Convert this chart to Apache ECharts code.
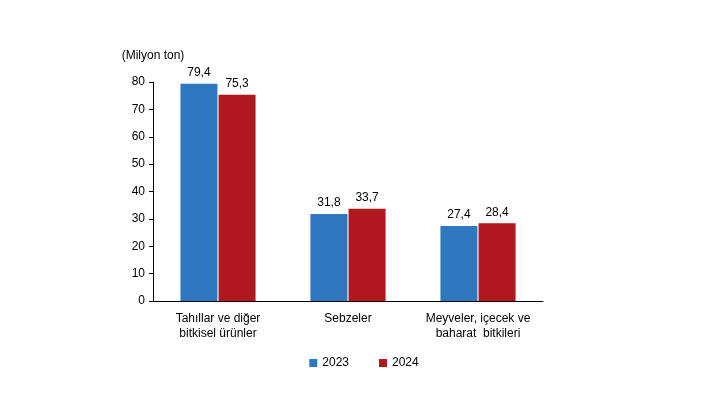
<!DOCTYPE html><html><head><meta charset="utf-8"><script src="https://cdn.jsdelivr.net/npm/echarts@6/dist/echarts.min.js"></script></head><body style="margin:0;background:#fff"><div id="c" style="width:728px;height:410px"></div><script>
const categories=["Tahıllar ve diğer\nbitkisel ürünler","Sebzeler","Meyveler, içecek ve\nbaharat  bitkileri"];
const s2023=[79.4,31.8,27.4];
const s2024=[75.3,33.7,28.4];
const ticks=[0,10,20,30,40,50,60,70,80];
const fmt=p=>String(p.value).replace('.',',');
const font="Liberation Sans, Arial, sans-serif";
const ch=echarts.init(document.getElementById('c'));
ch.setOption({
 animation:false,
 textStyle:{fontFamily:font,color:'#000'},
 grid:{left:153,right:185,top:82,bottom:109},
 legend:{bottom:36,left:'center',itemWidth:8,itemHeight:8,itemGap:30,icon:'rect',textStyle:{fontSize:12,color:'#000',fontFamily:font},data:['2023','2024']},
 xAxis:{type:'category',data:categories,axisTick:{show:false},axisLine:{lineStyle:{color:'#000'}},axisLabel:{color:'#000',fontSize:12,lineHeight:15,margin:10,interval:0}},
 yAxis:{type:'value',min:0,max:80,interval:10,name:'(Milyon ton)',nameGap:20,nameTextStyle:{color:'#000',fontSize:12,align:'center',padding:[0,0,0,0]},splitLine:{show:false},axisLine:{show:true,lineStyle:{color:'#000'}},axisTick:{show:true,length:4,lineStyle:{color:'#000'}},axisLabel:{color:'#000',fontSize:12,margin:8}},
 series:[
  {name:'2023',type:'bar',data:s2023,barWidth:37,barGap:'3%',itemStyle:{color:'#2e78bf'},label:{show:true,position:'top',formatter:fmt,fontSize:12,color:'#000',distance:5}},
  {name:'2024',type:'bar',data:s2024,barWidth:37,itemStyle:{color:'#b0181d'},label:{show:true,position:'top',formatter:fmt,fontSize:12,color:'#000',distance:5}}
 ]
});
</script></body></html>
